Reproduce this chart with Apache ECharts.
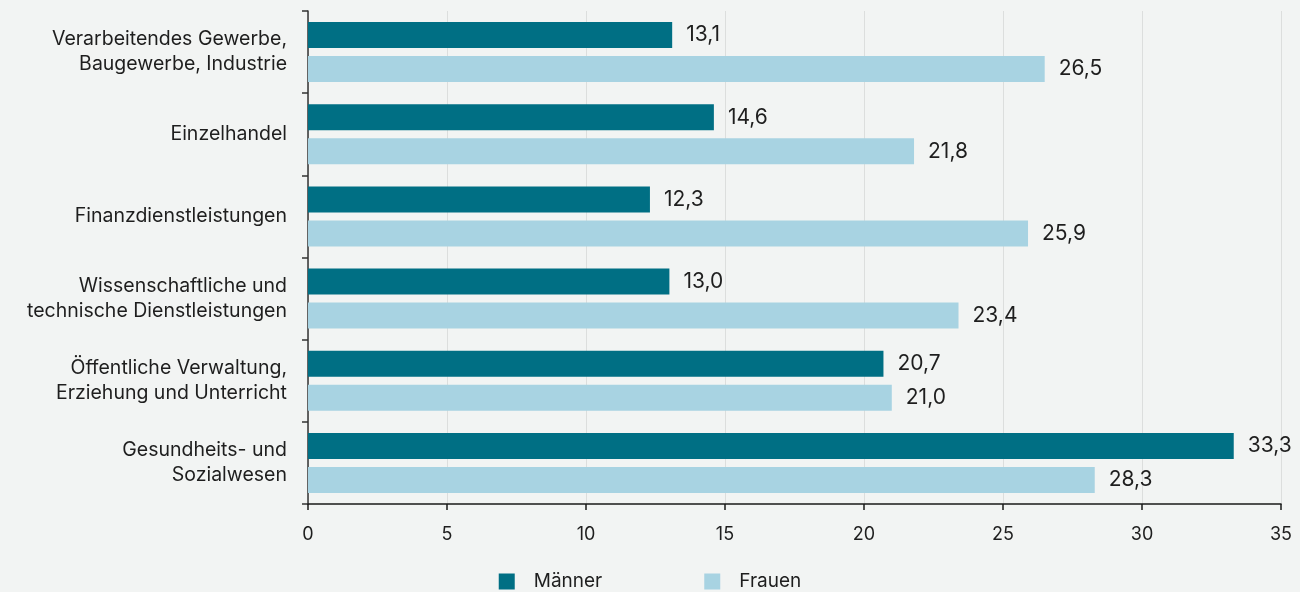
<!DOCTYPE html>
<html>
<head>
<meta charset="utf-8">
<script src="https://cdn.jsdelivr.net/npm/echarts@6/dist/echarts.min.js"></script>
<style>
  html, body { margin: 0; padding: 0; background: #f2f4f3; }
  #chart { width: 1300px; height: 592px; }
</style>
</head>
<body>
<div id="chart"></div>
<script>
// Branchen (von oben nach unten)
const categories = [
  'Verarbeitendes Gewerbe,\nBaugewerbe, Industrie',
  'Einzelhandel',
  'Finanzdienstleistungen',
  'Wissenschaftliche und\ntechnische Dienstleistungen',
  'Öffentliche Verwaltung,\nErziehung und Unterricht',
  'Gesundheits- und\nSozialwesen'
];
const maenner = [13.1, 14.6, 12.3, 13.0, 20.7, 33.3];
const frauen = [26.5, 21.8, 25.9, 23.4, 21.0, 28.3];
const xTicks = [0, 5, 10, 15, 20, 25, 30, 35];

const font = 'Inter, "Noto Sans", sans-serif';
const textColor = '#1e1e1e';

let chart = echarts.init(document.getElementById('chart'));

const labelCfg = {
  show: true,
  position: 'right',
  distance: 14,
  fontSize: 21,
  fontFamily: font,
  color: textColor,
  formatter: (p) => p.value.toFixed(1).replace('.', ',')
};

let option = {
  backgroundColor: '#f2f4f3',
  animation: false,
  grid: {
    left: 308,
    right: 19,
    top: 11,
    bottom: 88,
    containLabel: false
  },
  legend: {
    bottom: -4,
    left: 'center',
    itemWidth: 16,
    itemHeight: 16,
    itemGap: 102,
    icon: 'rect',
    textStyle: {
      fontSize: 19,
      fontFamily: font,
      color: textColor,
      padding: [0, 0, 0, 14]
    },
    data: ['Männer', 'Frauen']
  },
  xAxis: {
    type: 'value',
    min: 0,
    max: 35,
    interval: 5,
    axisLine: { show: true, lineStyle: { color: '#1a1a1a', width: 1.5 } },
    axisTick: { show: true, length: 6, lineStyle: { color: '#1a1a1a', width: 1.5 } },
    axisLabel: {
      margin: 22,
      fontSize: 18,
      fontFamily: font,
      color: textColor,
      formatter: (v) => xTicks.includes(v) ? String(v) : ''
    },
    splitLine: { show: true, lineStyle: { color: '#dcdedd', width: 1 } }
  },
  yAxis: {
    type: 'category',
    inverse: true,
    data: categories,
    axisLine: { show: true, lineStyle: { color: '#333', width: 1.5 } },
    axisTick: { show: true, length: 6, lineStyle: { color: '#333', width: 1.5 } },
    axisLabel: {
      margin: 21,
      fontSize: 19.5,
      lineHeight: 25,
      fontFamily: font,
      color: textColor,
      align: 'right'
    }
  },
  series: [
    {
      name: 'Männer',
      type: 'bar',
      data: maenner,
      barWidth: 26,
      barGap: '31%',
      itemStyle: { color: '#006f84' },
      label: labelCfg
    },
    {
      name: 'Frauen',
      type: 'bar',
      data: frauen,
      barWidth: 26,
      barGap: '31%',
      itemStyle: { color: '#a8d3e2' },
      label: labelCfg
    }
  ]
};

chart.setOption(option);
</script>
</body>
</html>
